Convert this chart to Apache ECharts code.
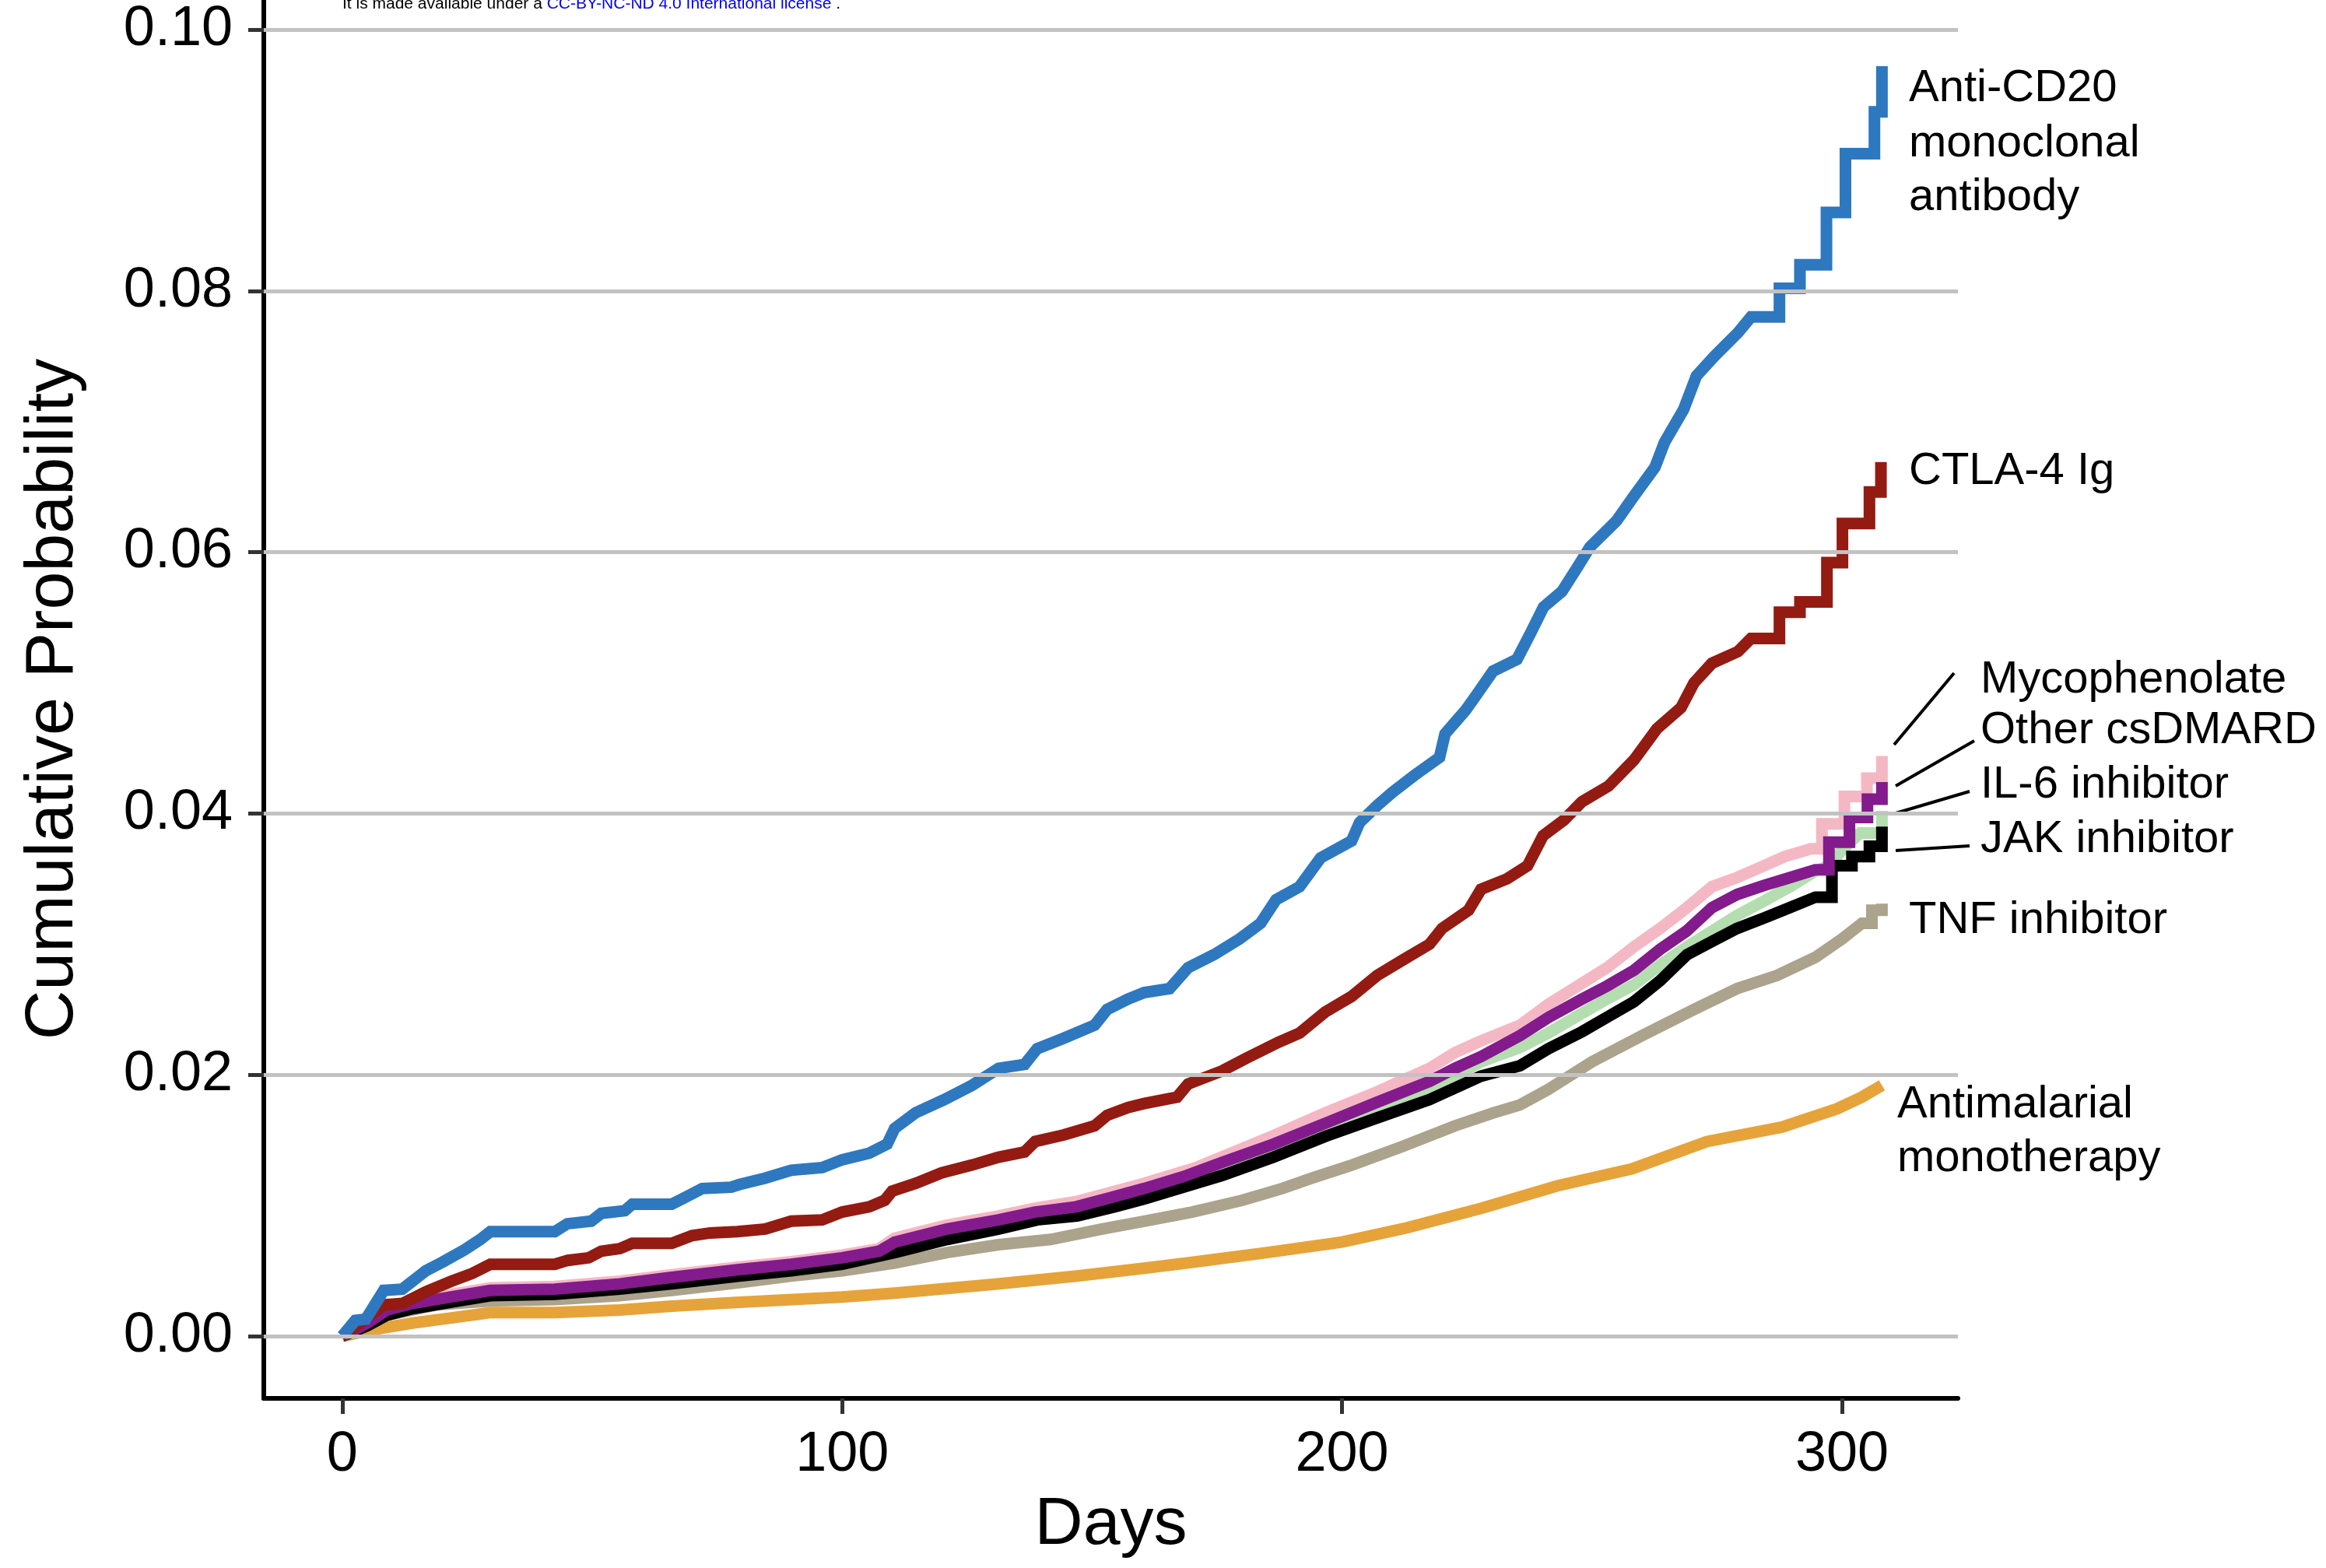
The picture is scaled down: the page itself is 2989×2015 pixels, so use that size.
<!DOCTYPE html>
<html>
<head>
<meta charset="utf-8">
<script src="https://cdn.jsdelivr.net/npm/echarts@6/dist/echarts.min.js"></script>
<style>
html,body{margin:0;padding:0;background:#fff;}
#chart{width:2989px;height:2015px;}
</style>
</head>
<body>
<div id="chart"></div>
<script>
// ---- Data (day, cumulative probability) ----
// Late-period step corners are listed explicitly (two points at the same day).
const xTicks = [0, 100, 200, 300];
const yTicks = [0, 0.02, 0.04, 0.06, 0.08, 0.10];

const antiCD20 = [[0,0],[2.6,0.0012],[4.7,0.0013],[8.3,0.0035],[12,0.0036],[16.7,0.005],[20.2,0.0057],[24.4,0.0066],[27.6,0.0074],[29.6,0.008],[42.5,0.008],[45,0.0086],[49.8,0.0088],[51.8,0.0094],[56.5,0.0096],[58,0.0101],[65.9,0.0101],[69,0.0107],[72,0.0113],[77.8,0.0114],[79.4,0.0116],[84.6,0.0121],[89.8,0.0127],[96,0.0129],[100,0.0135],[105.4,0.014],[109,0.0147],[110.5,0.0159],[114.7,0.0171],[120.4,0.0181],[126,0.0192],[131.3,0.0205],[136.5,0.0208],[139,0.022],[144.3,0.0228],[150.5,0.0238],[153,0.025],[157.2,0.0258],[160.4,0.0263],[165.5,0.0266],[169.2,0.0282],[174.4,0.0292],[179.5,0.0304],[183.7,0.0316],[186.8,0.0334],[191.5,0.0344],[195.7,0.0366],[201.9,0.0379],[203.5,0.0393],[207,0.0406],[210,0.0416],[214.4,0.0429],[219.5,0.0443],[220.6,0.0461],[224.7,0.0479],[227.3,0.0493],[230.2,0.0509],[235,0.0518],[237.7,0.0538],[240.3,0.0558],[244,0.057],[247,0.0588],[249.6,0.0604],[254.9,0.0624],[258.4,0.0643],[262.6,0.0665],[264.5,0.0684],[268.3,0.0709],[270.9,0.0735],[274.5,0.075],[279.2,0.0768],[281.8,0.078],[287.5,0.078],[287.5,0.0802],[291.6,0.0802],[291.6,0.082],[296.9,0.082],[296.9,0.086],[300.7,0.086],[300.7,0.0905],[306.5,0.0905],[306.5,0.0937],[308,0.0937],[308,0.0972]];

const ctla4Ig = [[0,0],[3.6,0.001],[8.3,0.0024],[12,0.0025],[16.7,0.0034],[21.8,0.0042],[26,0.0048],[29.6,0.0055],[42.5,0.0055],[45.1,0.0058],[49.3,0.006],[51.8,0.0065],[55.5,0.0067],[58,0.0071],[65.9,0.0071],[70,0.0077],[73.6,0.0079],[79,0.008],[84.6,0.0082],[89.8,0.0088],[96,0.0089],[100,0.0095],[105.4,0.0099],[108.5,0.0104],[110,0.0111],[114.7,0.0117],[119.9,0.0125],[126,0.0131],[131.3,0.0137],[136.5,0.0141],[138.6,0.0149],[144.3,0.0154],[150.5,0.0161],[153,0.0169],[157.2,0.0175],[160.4,0.0178],[167,0.0183],[169.2,0.0193],[176,0.0203],[181,0.0213],[187.3,0.0225],[191.5,0.0232],[196.6,0.0248],[201.9,0.026],[207,0.0276],[212.2,0.0288],[217.5,0.030],[220,0.0312],[225.3,0.0326],[227.8,0.0342],[233,0.035],[237.1,0.036],[240.2,0.0383],[244.4,0.0395],[248,0.0409],[253.3,0.0421],[258.4,0.0441],[263,0.0465],[267.8,0.0481],[270.4,0.05],[274,0.0515],[279.2,0.0524],[281.8,0.0534],[287.5,0.0534],[287.5,0.0554],[291.6,0.0554],[291.6,0.0562],[297,0.0562],[297,0.0592],[300.1,0.0592],[300.1,0.0622],[305.5,0.0622],[305.5,0.0646],[307.8,0.0646],[307.8,0.0669]];

const mycophenolate = [[0,0],[5,0.0012],[8.9,0.0022],[14,0.0027],[21.8,0.0032],[29.6,0.0037],[42.5,0.0038],[55.5,0.0042],[65.9,0.0047],[79.4,0.0053],[89.8,0.0057],[100,0.0062],[107.4,0.0067],[110.5,0.0075],[121,0.0085],[131.3,0.0092],[138.6,0.0098],[146.8,0.0103],[154.6,0.0111],[160.4,0.0117],[170.8,0.0129],[186,0.0153],[196.7,0.0171],[207,0.0187],[217.5,0.0205],[222.6,0.0217],[227.8,0.0226],[235.6,0.0238],[241.3,0.0254],[248,0.027],[253,0.0282],[258.4,0.0298],[263.6,0.0312],[269,0.0328],[274,0.0344],[279,0.0351],[284.4,0.036],[288.5,0.0367],[293.8,0.0373],[296,0.0373],[296,0.0392],[300.5,0.0392],[300.5,0.0413],[305,0.0413],[305,0.0427],[308,0.0427],[308,0.0444]];

const otherCsDMARD = [[0,0],[5,0.001],[8.9,0.002],[14,0.0025],[21.8,0.003],[29.6,0.0035],[42.5,0.0036],[55.5,0.004],[65.9,0.0045],[79.4,0.0051],[89.8,0.0055],[100,0.006],[107.4,0.0065],[110.5,0.0072],[121,0.0082],[131.3,0.0089],[138.6,0.0095],[146.8,0.0099],[154.6,0.0107],[160.4,0.0113],[168.2,0.0122],[176,0.0133],[186.3,0.0147],[196.7,0.0163],[207,0.0179],[217.5,0.0195],[222.6,0.0205],[227.8,0.0214],[235.6,0.023],[241.3,0.0244],[248,0.0258],[253,0.0268],[258.4,0.028],[263.6,0.0296],[268.9,0.031],[274,0.0328],[279,0.0338],[284.4,0.0345],[289.6,0.0351],[294.7,0.0357],[297.4,0.0357],[297.4,0.0378],[301.5,0.0378],[301.5,0.0397],[305.1,0.0397],[305.1,0.0411],[308,0.0411],[308,0.0424]];

const il6Inhibitor = [[0,0],[5,0.0009],[8.9,0.0018],[14,0.0023],[21.8,0.0028],[29.6,0.0033],[42.5,0.0034],[55.5,0.0038],[65.9,0.0043],[79.4,0.0048],[89.8,0.0052],[100,0.0057],[110.5,0.0067],[121,0.0077],[131.3,0.0085],[139,0.0091],[147,0.0095],[154.6,0.0103],[160.4,0.0109],[176,0.0128],[186.3,0.0142],[196.7,0.0158],[207,0.0173],[217.5,0.0188],[227.8,0.021],[235.6,0.0221],[241.3,0.0232],[248,0.0247],[253,0.0258],[258.4,0.0269],[263.6,0.0284],[269,0.0298],[274,0.031],[279,0.0322],[284.4,0.0333],[289.6,0.0344],[294.7,0.0356],[297.5,0.036],[300,0.0372],[303.6,0.0385],[308,0.0385],[308,0.0402]];

const jakInhibitor = [[0,0],[5,0.0008],[8.9,0.0016],[14,0.0021],[21.8,0.0026],[29.6,0.0031],[42.5,0.0032],[55.5,0.0036],[65.9,0.004],[79.4,0.0046],[89.8,0.005],[100,0.0055],[110.5,0.0064],[121,0.0074],[131.3,0.0082],[139,0.0089],[147,0.0092],[154.6,0.0099],[160.4,0.0105],[176,0.0123],[186.3,0.0137],[196.7,0.0153],[207,0.0167],[217.5,0.0181],[227.8,0.0199],[235.6,0.0207],[241.3,0.022],[248,0.0233],[253,0.0244],[258.4,0.0256],[263.6,0.0272],[269,0.0292],[274,0.0302],[279,0.0312],[284.4,0.032],[289.6,0.0328],[294.7,0.0336],[298,0.0336],[298,0.036],[302,0.036],[302,0.0367],[305.5,0.0367],[305.5,0.0375],[308,0.0375],[308,0.039]];

const tnfInhibitor = [[0,0],[3.6,0.0008],[8.9,0.0016],[19,0.0024],[29.6,0.0027],[42.5,0.0028],[55.5,0.0031],[65.9,0.0035],[79.4,0.0041],[89.8,0.0046],[100,0.005],[110.5,0.0056],[121,0.0064],[131.3,0.007],[141.7,0.0074],[152,0.0082],[160.4,0.0088],[170,0.0095],[180,0.0104],[188,0.0113],[194,0.0121],[202,0.0131],[212,0.0145],[222.6,0.0161],[230.4,0.0171],[235.6,0.0177],[241.3,0.0189],[250,0.021],[260,0.023],[270.4,0.025],[279,0.0266],[287,0.0276],[294.7,0.029],[300,0.0304],[304,0.0316],[306,0.0316],[306,0.0326],[308,0.0326],[308,0.0331]];

const antimalarial = [[0,0],[6.2,0.0005],[14,0.001],[21.8,0.0014],[29.6,0.0018],[42.5,0.0018],[55.5,0.002],[65.9,0.0023],[79.4,0.0026],[100,0.003],[110.5,0.0033],[131,0.004],[147,0.0046],[160.4,0.0052],[169,0.0056],[185,0.0064],[200,0.0072],[213,0.0083],[228,0.0098],[243,0.0115],[258,0.0128],[273,0.0149],[288,0.016],[299,0.0174],[304,0.0183],[308,0.0192]];

// ---- Styles ----
const FONT = "'Liberation Sans', Arial, Helvetica, sans-serif";
const LW = 15;

function kmSeries(name, data, color) {
  return {
    name: name,
    type: 'line',
    data: data,
    showSymbol: false,
    symbol: 'none',
    silent: true,
    z: 3,
    lineStyle: { color: color, width: LW, join: 'miter', cap: 'butt' }
  };
}

const chart = echarts.init(document.getElementById('chart'), null, { renderer: 'canvas' });

const option = {
  animation: false,
  backgroundColor: '#ffffff',
  grid: { left: 339, right: 473, top: 0, bottom: 218 },
  xAxis: {
    type: 'value',
    min: -15.7,
    max: 323.2,
    name: 'Days',
    nameLocation: 'middle',
    nameGap: 120,
    nameTextStyle: { fontSize: 86, color: '#000', fontFamily: FONT },
    axisLine: { show: true, onZero: false, lineStyle: { color: '#000', width: 6 } },
    axisTick: { show: true, customValues: xTicks, length: 20, lineStyle: { color: '#333', width: 5 } },
    axisLabel: { customValues: xTicks, fontSize: 72, color: '#000', fontFamily: FONT, margin: 37 },
    splitLine: { show: false }
  },
  yAxis: {
    type: 'value',
    min: -0.00476,
    max: 0.10226,
    name: 'Cumulative Probability',
    nameLocation: 'middle',
    nameGap: 226,
    nameTextStyle: { fontSize: 88, color: '#000', fontFamily: FONT },
    axisLine: { show: true, onZero: false, lineStyle: { color: '#000', width: 6 } },
    axisTick: { show: true, customValues: yTicks, length: 20, lineStyle: { color: '#333', width: 5 } },
    axisLabel: { customValues: yTicks, fontSize: 72, color: '#000', fontFamily: FONT, margin: 40,
                 formatter: v => v.toFixed(2) },
    splitLine: { show: false }
  },
  series: [
    {
      name: 'grid',
      type: 'line',
      data: [],
      z: 1,
      silent: true,
      markLine: {
        silent: true,
        symbol: ['none', 'none'],
        label: { show: false },
        lineStyle: { color: '#c2c2c2', width: 5, type: 'solid' },
        data: yTicks.map(v => ({ yAxis: v }))
      }
    },
    kmSeries('Antimalarial monotherapy', antimalarial, '#E6A33A'),
    kmSeries('TNF inhibitor', tnfInhibitor, '#ABA38C'),
    kmSeries('Mycophenolate', mycophenolate, '#F4B8C4'),
    kmSeries('IL-6 inhibitor', il6Inhibitor, '#B4DDB0'),
    kmSeries('JAK inhibitor', jakInhibitor, '#000000'),
    kmSeries('Other csDMARD', otherCsDMARD, '#831B8C'),
    kmSeries('CTLA-4 Ig', ctla4Ig, '#941B12'),
    kmSeries('Anti-CD20 monoclonal antibody', antiCD20, '#2E78C0')
  ],
  graphic: [
    { type: 'text', x: 440, y: 5, silent: true,
      style: { text: '{a|It is made available under a }{b|CC-BY-NC-ND 4.0 International license}{a| .}',
               fontSize: 21, fontFamily: FONT, verticalAlign: 'middle',
               rich: { a: { fill: '#000', fontSize: 21, fontFamily: FONT }, b: { fill: '#0000EE', fontSize: 21, fontFamily: FONT } } } },
    { type: 'text', x: 2453, y: 114, style: { text: 'Anti-CD20', fontSize: 58, fontFamily: FONT, fill: '#000', verticalAlign: 'middle' } },
    { type: 'text', x: 2453, y: 185, style: { text: 'monoclonal', fontSize: 58, fontFamily: FONT, fill: '#000', verticalAlign: 'middle' } },
    { type: 'text', x: 2453, y: 254, style: { text: 'antibody', fontSize: 58, fontFamily: FONT, fill: '#000', verticalAlign: 'middle' } },
    { type: 'text', x: 2453, y: 606, style: { text: 'CTLA-4 Ig', fontSize: 58, fontFamily: FONT, fill: '#000', verticalAlign: 'middle' } },
    { type: 'text', x: 2545, y: 874, style: { text: 'Mycophenolate', fontSize: 58, fontFamily: FONT, fill: '#000', verticalAlign: 'middle' } },
    { type: 'text', x: 2545, y: 939, style: { text: 'Other csDMARD', fontSize: 58, fontFamily: FONT, fill: '#000', verticalAlign: 'middle' } },
    { type: 'text', x: 2545, y: 1009, style: { text: 'IL-6 inhibitor', fontSize: 58, fontFamily: FONT, fill: '#000', verticalAlign: 'middle' } },
    { type: 'text', x: 2545, y: 1079, style: { text: 'JAK inhibitor', fontSize: 58, fontFamily: FONT, fill: '#000', verticalAlign: 'middle' } },
    { type: 'text', x: 2453, y: 1183, style: { text: 'TNF inhibitor', fontSize: 58, fontFamily: FONT, fill: '#000', verticalAlign: 'middle' } },
    { type: 'text', x: 2438, y: 1420, style: { text: 'Antimalarial', fontSize: 58, fontFamily: FONT, fill: '#000', verticalAlign: 'middle' } },
    { type: 'text', x: 2438, y: 1489, style: { text: 'monotherapy', fontSize: 58, fontFamily: FONT, fill: '#000', verticalAlign: 'middle' } },
    { type: 'line', shape: { x1: 2434, y1: 957, x2: 2511, y2: 865 }, style: { stroke: '#000', lineWidth: 4 } },
    { type: 'line', shape: { x1: 2436, y1: 1010, x2: 2537, y2: 952 }, style: { stroke: '#000', lineWidth: 4 } },
    { type: 'line', shape: { x1: 2436, y1: 1045, x2: 2531, y2: 1017 }, style: { stroke: '#000', lineWidth: 4 } },
    { type: 'line', shape: { x1: 2436, y1: 1093, x2: 2531, y2: 1087 }, style: { stroke: '#000', lineWidth: 4 } }
  ]
};

chart.setOption(option);
</script>
</body>
</html>
